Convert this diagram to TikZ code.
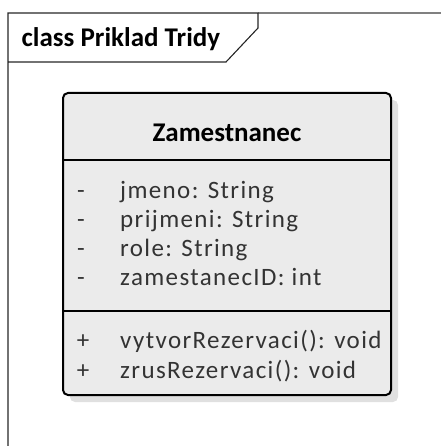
\documentclass[tikz,border=0pt]{standalone}
\usepackage{fontspec}
\setmainfont{Carlito}
\newfontfamily\memfont{Carlito}[LetterSpace=5.5]
\definecolor{txt}{HTML}{333333}
\definecolor{framegray}{HTML}{808080}
\definecolor{shadowgray}{HTML}{E0E0E0}
\definecolor{boxside}{HTML}{EBEBEB}
\tikzset{
  framedark/.style={draw=black!85, line width=1.1pt},
  framelight/.style={draw=framegray, line width=1.3pt},
  classbox/.style={draw=black, line width=2pt, rounded corners=5pt, left color=boxside, middle color=white, right color=boxside},
  shadowbox/.style={fill=shadowgray, rounded corners=5pt},
  sepline/.style={draw=black, line width=1.8pt},
  titletext/.style={inner sep=0pt, anchor=base west, font=\fontsize{27}{32}\selectfont\bfseries, text=black},
  headtext/.style={inner sep=0pt, anchor=base, font=\fontsize{27}{32}\selectfont\bfseries, text=black},
  vis/.style={inner sep=0pt, anchor=base, font=\fontsize{25}{30}\selectfont, text=txt},
  member/.style={inner sep=0pt, anchor=base west, font=\memfont\fontsize{25}{30}\selectfont, text=txt}
}
\begin{document}
\begin{tikzpicture}[x=1pt,y=-1pt]
\useasboundingbox (0,0) rectangle (440,446);
% frame
\draw[framelight] (258,13) -- (441,13);
\draw[framedark] (8,447) -- (8,13) -- (258,13) -- (258,28) -- (226,62) -- (8,62);
\node[titletext] (title) at (21.5,46.5) {class Priklad Tridy};
% class box
\fill[shadowbox] (70,100) rectangle (398,402);
\path[classbox] (63,93) rectangle (391,395);
\draw[sepline] (63,160) -- (391,160);
\draw[sepline] (63,311) -- (391,311);
\node[headtext] (head) at (227,141.7) {Zamestnanec};
% attributes
\node[vis] (v1) at (81,198) {-};
\node[vis] (v2) at (81,227) {-};
\node[vis] (v3) at (81,256) {-};
\node[vis] (v4) at (81,285) {-};
\node[member] (a1) at (120,198) {jmeno: String};
\node[member] (a2) at (120,227) {prijmeni: String};
\node[member] (a3) at (120,256) {role: String};
\node[member] (a4) at (120,285) {zamestanecID: int};
% operations
\node[vis] (p1) at (83,348) {+};
\node[vis] (p2) at (83,378) {+};
\node[member] (o1) at (120,348) {vytvorRezervaci(): void};
\node[member] (o2) at (120,378) {zrusRezervaci(): void};
\end{tikzpicture}
\end{document}
